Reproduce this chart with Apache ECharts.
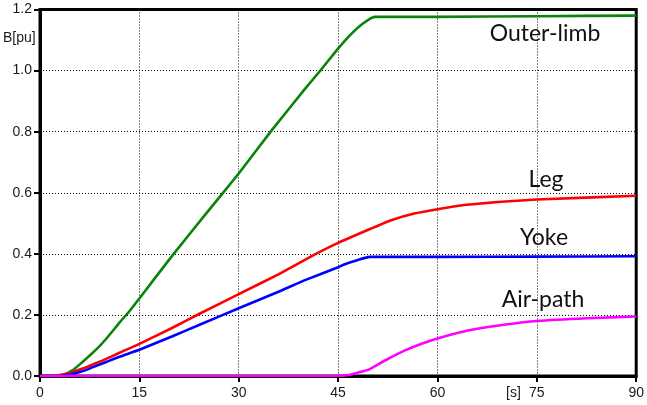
<!DOCTYPE html>
<html>
<head>
<meta charset="utf-8">
<script src="https://cdn.jsdelivr.net/npm/echarts@6/dist/echarts.min.js"></script>
<style>html,body{margin:0;padding:0;background:#fff}#c{width:647px;height:405px}</style>
</head>
<body>
<div id="c"></div>
<script>
const xTicks = [0, 15, 30, 45, 60, 75, 90];
const yTicks = [0.0, 0.2, 0.4, 0.6, 0.8, 1.0, 1.2];
const outerLimb = [[0,0],[3,0],[4,0.008],[5,0.02],[6,0.038],[7,0.057],[8,0.077],[9,0.098],[10,0.122],[11,0.148],[12,0.175],[13.5,0.212],[15,0.254],[20,0.395],[25,0.53],[30,0.663],[35,0.805],[40,0.94],[42.5,1.005],[45,1.072],[47,1.12],[48.75,1.154],[50.5,1.176],[60,1.176],[75,1.178],[90,1.18]];
const leg = [[0,0],[2,0],[3,0.003],[4,0.007],[5,0.013],[6,0.021],[7,0.029],[8,0.038],[10,0.056],[12,0.076],[15,0.105],[20,0.158],[24,0.203],[30,0.268],[36,0.333],[41.5,0.398],[45,0.436],[50,0.483],[53,0.51],[56.5,0.532],[60,0.546],[64,0.56],[75,0.578],[90,0.59]];
const yoke = [[0,0],[3,0],[4,0.003],[5,0.007],[6,0.013],[7,0.02],[8,0.029],[10,0.046],[12,0.063],[15,0.086],[20,0.13],[24,0.167],[30,0.222],[36,0.276],[40,0.314],[45,0.356],[46,0.366],[48,0.38],[49.75,0.39],[60,0.39],[75,0.391],[90,0.392]];
const airPath = [[0,0],[45,0],[46,0.002],[47,0.005],[48,0.011],[49.5,0.02],[52,0.05],[55,0.083],[57.5,0.105],[60,0.123],[63,0.141],[66,0.155],[70,0.168],[75,0.18],[82.5,0.189],[90,0.195]];
const seriesNames = ['Outer-limb', 'Leg', 'Yoke', 'Air-path'];

const chart = echarts.init(document.getElementById('c'), null, {renderer: 'canvas'});
const lbl = {color: '#1a1a1a', fontFamily: 'Liberation Sans, Arial, sans-serif', fontSize: 14};
const mk = (name, data, color) => ({
  name, type: 'line', data, showSymbol: false, symbol: 'none', smooth: 0.15,
  lineStyle: {color, width: 2.6}, itemStyle: {color}, z: 3
});
const txt = (text, x, y, size) => ({
  type: 'text', x, y, z: 10,
  style: {text, fill: '#111', font: size + 'px Lato, "Open Sans", sans-serif', align: 'center', verticalAlign: 'middle', textAlign: 'center', textVerticalAlign: 'middle'}
});
chart.setOption({
  animation: false,
  backgroundColor: '#fff',
  grid: {left: 40, right: 7, top: 9.5, bottom: 29, show: true, borderColor: '#000', borderWidth: 3, backgroundColor: 'transparent'},
  xAxis: {
    type: 'value', min: xTicks[0], max: xTicks[xTicks.length - 1], interval: 15,
    axisLine: {show: true, onZero: false, lineStyle: {color: '#000', width: 3}},
    axisTick: {show: true, length: 6, lineStyle: {color: '#000', width: 2}},
    axisLabel: Object.assign({margin: 10, showMaxLabel: true, showMinLabel: true}, lbl),
    splitLine: {show: true, lineStyle: {color: '#000', type: [1, 2], width: 1}}
  },
  yAxis: {
    type: 'value', min: yTicks[0], max: yTicks[yTicks.length - 1], interval: 0.2,
    axisLine: {show: true, lineStyle: {color: '#000', width: 3}},
    axisTick: {show: true, length: 6, lineStyle: {color: '#000', width: 2}},
    axisLabel: Object.assign({margin: 8, formatter: v => v.toFixed(1)}, lbl),
    splitLine: {show: true, lineStyle: {color: '#000', type: [1, 2], width: 1}}
  },
  series: [
    mk(seriesNames[0], outerLimb, '#0a830a'),
    mk(seriesNames[1], leg, '#ff0000'),
    mk(seriesNames[2], yoke, '#0000ff'),
    mk(seriesNames[3], airPath, '#ff00ff')
  ],
  graphic: [
    txt('Outer-limb', 545, 34, 23),
    txt('Leg', 546, 180, 23),
    txt('Yoke', 544, 238, 23),
    txt('Air-path', 543, 300, 23),
    {type: 'text', x: 3, y: 31, z: 10, style: {text: 'B[pu]', fill: '#1a1a1a', font: '14px "Liberation Sans", Arial, sans-serif'}},
    {type: 'text', x: 506, y: 386, z: 10, style: {text: '[s]', fill: '#1a1a1a', font: '14px "Liberation Sans", Arial, sans-serif'}}
  ]
});
</script>
</body>
</html>
